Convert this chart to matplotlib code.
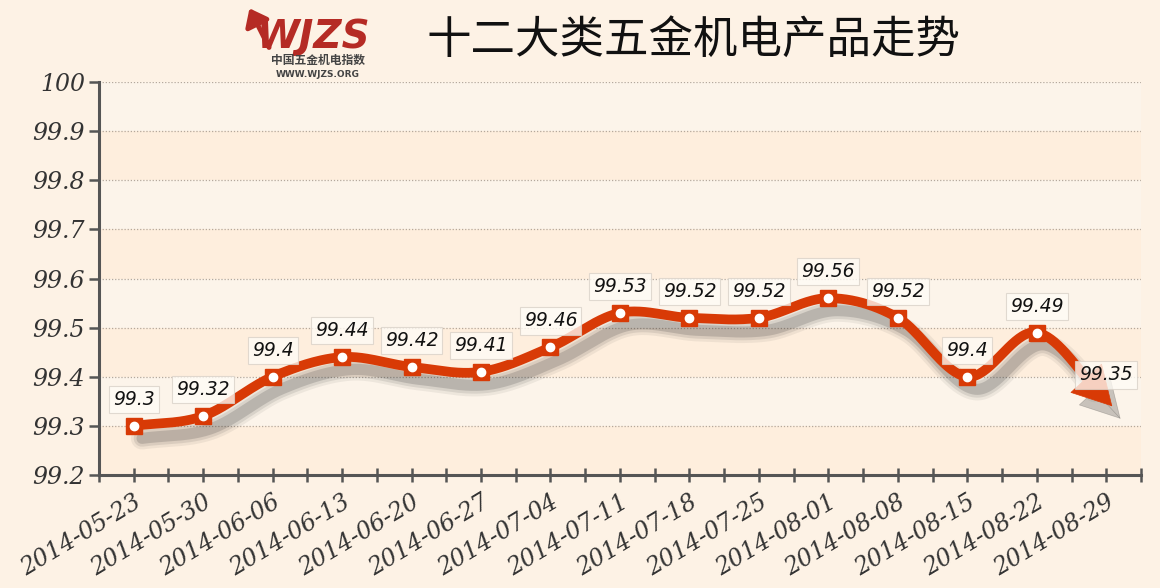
import matplotlib.pyplot as plt
import matplotlib.transforms as mtransforms
from matplotlib.patches import FancyArrowPatch
import numpy as np

plt.rcParams['font.family'] = ['DejaVu Sans']

# ─── Datos ───────────────────────────────────────────────────────────────────
fechas = ["2014-05-23", "2014-05-30", "2014-06-06", "2014-06-13", "2014-06-20",
          "2014-06-27", "2014-07-04", "2014-07-11", "2014-07-18", "2014-07-25",
          "2014-08-01", "2014-08-08", "2014-08-15", "2014-08-22", "2014-08-29"]
valores = [99.3, 99.32, 99.4, 99.44, 99.42, 99.41, 99.46, 99.53,
           99.52, 99.52, 99.56, 99.52, 99.4, 99.49, 99.35]
etiquetas = ["99.3", "99.32", "99.4", "99.44", "99.42", "99.41", "99.46", "99.53",
             "99.52", "99.52", "99.56", "99.52", "99.4", "99.49", "99.35"]
y_ticks = [99.2, 99.3, 99.4, 99.5, 99.6, 99.7, 99.8, 99.9, 100]
y_ticklabels = ["99.2", "99.3", "99.4", "99.5", "99.6", "99.7", "99.8", "99.9", "100"]

titulo = "十二大类五金机电产品走势"

ROJO = "#D83A06"
FONDO = "#FDF2E5"

fig = plt.figure(figsize=(11.6, 5.88), dpi=100, facecolor=FONDO)
ax = fig.add_axes([0.0853, 0.1922, 0.8983, 0.6683])
ax.set_facecolor(FONDO)
ax.set_xlim(-0.5, len(valores) - 0.5)
ax.set_ylim(99.2, 100)

# ─── Curva suave (Hermite cúbica) ────────────────────────────────────────────
x = np.arange(len(valores), dtype=float)
y = np.array(valores)
tang = np.gradient(y)
xs, ys = [], []
for i in range(len(x) - 1):
    t = np.linspace(0, 1, 40)
    h00 = 2 * t**3 - 3 * t**2 + 1
    h10 = t**3 - 2 * t**2 + t
    h01 = -2 * t**3 + 3 * t**2
    h11 = t**3 - t**2
    xs.extend(x[i] + t)
    ys.extend(h00 * y[i] + h10 * tang[i] + h01 * y[i + 1] + h11 * tang[i + 1])
xs = np.array(xs)
ys = np.array(ys)

# Punta de flecha, en píxeles
pix = ax.transData.transform(np.column_stack([xs, ys]))
punta = pix[-1] + np.array([6, -5])
dist = np.hypot(*(pix - punta).T)
corte = np.where(dist > 36)[0][-1]
base = pix[corte]

# Bandas alternas
for k in range(len(y_ticks) - 1):
    c = "#FCF4EA" if (len(y_ticks) - 2 - k) % 2 == 0 else "#FEEEDD"
    ax.axhspan(y_ticks[k], y_ticks[k + 1], color=c, zorder=0, lw=0)

for v in y_ticks[1:]:
    ax.axhline(v, color="#B4A89C", linestyle=(0, (1, 1.5)), lw=0.9, zorder=1)

# Sombra de la línea
sombra = mtransforms.offset_copy(ax.transData, fig=fig, x=6, y=-9, units="points")
for lw, a in [(16, 0.07), (12, 0.11), (8, 0.18)]:
    ax.plot(xs[:corte + 1], ys[:corte + 1], color="#303030", lw=lw, alpha=a,
            transform=sombra, solid_capstyle="round", zorder=2)

# Línea principal
ax.plot(xs[:corte + 2], ys[:corte + 2], color=ROJO, lw=7,
        solid_capstyle="butt", zorder=3)

# Cabeza de flecha (y su sombra)
inicio = ax.transData.inverted().transform(base)
fin = ax.transData.inverted().transform(punta)
for trans, col, alfa, z in [(sombra, "#303030", 0.25, 2), (ax.transData, ROJO, 1.0, 3.5)]:
    ax.add_patch(FancyArrowPatch(
        inicio, fin, transform=trans, shrinkA=0, shrinkB=0,
        arrowstyle="-|>,head_length=1.35,head_width=0.75", mutation_scale=20,
        color=col, alpha=alfa, lw=0.5, zorder=z))

# Marcadores
ax.plot(x[:-1], y[:-1], "s", color=ROJO, markersize=11, zorder=4)
ax.plot(x[:-1], y[:-1], "o", color="white", markersize=6, zorder=5)

# Etiquetas de valores
for xi, yi, lab in zip(x, y, etiquetas):
    ax.annotate(lab, xy=(xi, yi), xytext=(0, 19), textcoords="offset points",
                ha="center", va="center", fontsize=13.5, style="italic",
                family="DejaVu Sans", color="#111111",
                bbox=dict(boxstyle="square,pad=0.22", fc="#FFFCF6",
                          ec="#D9D1C8", lw=0.8, alpha=0.78),
                zorder=6)

# Ejes
ax.set_yticks(y_ticks)
ax.set_yticklabels(y_ticklabels, fontsize=17, style="italic",
                   family="DejaVu Serif", color="#333333")
ax.set_xticks(x)
ax.set_xticks(np.arange(-0.5, len(valores), 1.0), minor=True)
ax.set_xticklabels(fechas, rotation=31, ha="right", va="top",
                   rotation_mode="anchor", fontsize=17, style="italic",
                   family="DejaVu Serif", color="#333333")
ax.tick_params(axis="x", which="both", direction="inout", length=10,
               width=1.8, color="#555555", pad=6)
ax.tick_params(axis="y", direction="out", length=7, width=1.8,
               color="#555555", pad=3)
for s in ["top", "right"]:
    ax.spines[s].set_visible(False)
for s in ["left", "bottom"]:
    ax.spines[s].set_color("#555555")
    ax.spines[s].set_linewidth(2.2)

# ─── Cabecera: título y logo ─────────────────────────────────────────────────
fig.text(0.598, 0.933, titulo, ha="center", va="center", fontsize=32,
         family=["Noto Sans CJK SC", "DejaVu Sans"], color="#111111")
fig.text(0.27, 0.937, "WJZS", ha="center", va="center", fontsize=28,
         weight="bold", style="italic", color="#B52B25")
fig.patches.append(FancyArrowPatch(
    (0.233, 0.915), (0.214, 0.99), transform=fig.transFigure,
    arrowstyle="-|>,head_length=0.7,head_width=0.55", mutation_scale=14,
    color="#B52B25", lw=3.5))
fig.text(0.274, 0.897, "中国五金机电指数", ha="center", va="center",
         fontsize=8.5, weight="bold", color="#444444",
         family=["Noto Sans CJK SC", "DejaVu Sans"])
fig.text(0.274, 0.874, "WWW.WJZS.ORG", ha="center", va="center",
         fontsize=6.5, weight="bold", color="#444444")

plt.savefig("out.png", dpi=100, facecolor=FONDO)
